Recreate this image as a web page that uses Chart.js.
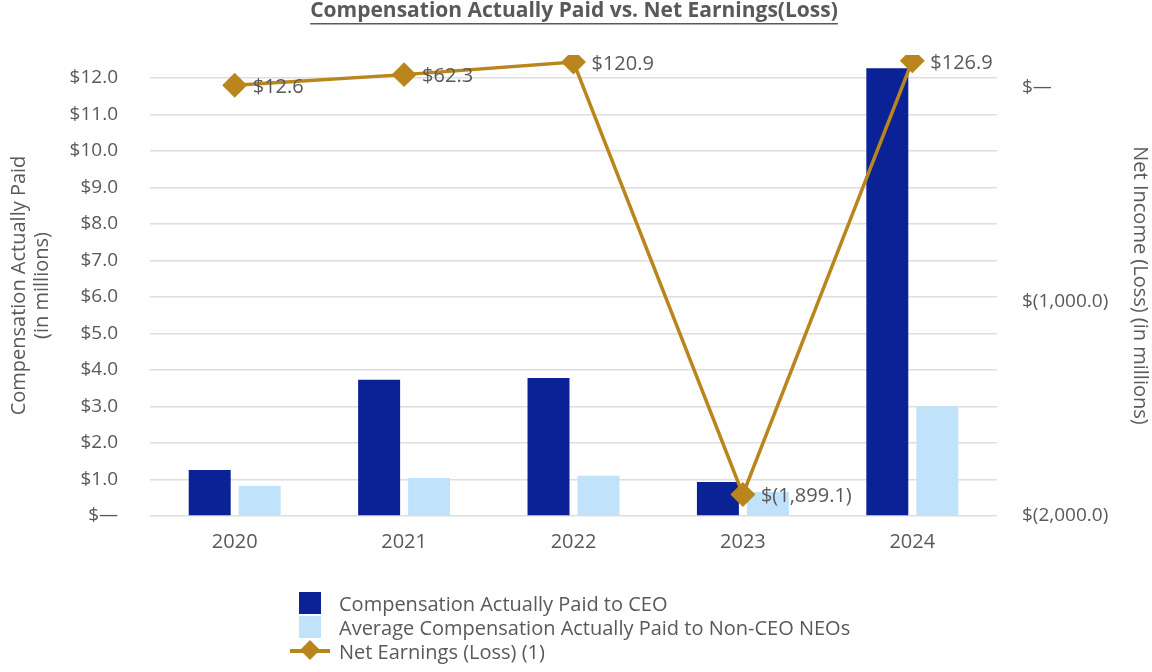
<!DOCTYPE html>
<html>
<head>
<meta charset="utf-8">
<script src="https://cdn.jsdelivr.net/npm/chart.js@4"></script>
<style>
  html, body { margin: 0; padding: 0; background: #fff; }
  #wrap { position: relative; width: 1152px; height: 672px; }
  #legend { position: absolute; left: 299px; top: 591px; font-family: "Open Sans", sans-serif; font-size: 20px; color: #595959; }
  .item { display: flex; align-items: center; height: 24px; }
  .sw { width: 40px; height: 24px; position: relative; }
  .sw span { position: absolute; }
</style>
</head>
<body>
<div id="wrap">
  <canvas id="chart" width="1152" height="672"></canvas>
  <div id="legend"></div>
</div>
<script>
// chart data
const years = ['2020', '2021', '2022', '2023', '2024'];
const ceoPay = [1.26, 3.73, 3.78, 0.93, 12.27];
const neoPay = [0.82, 1.04, 1.10, 0.66, 3.01];
const netEarnings = [12.6, 62.3, 120.9, -1899.1, 126.9];
const netLabels = ['$12.6', '$62.3', '$120.9', '$(1,899.1)', '$126.9'];
const rightTicks = [-2000, -1000, 0];
const rightTickLabels = ['$(2,000.0)', '$(1,000.0)', '$—'];

const seriesNames = ['Compensation Actually Paid to CEO', 'Average Compensation Actually Paid to Non-CEO NEOs', 'Net Earnings (Loss) (1)'];
const ceoColor = '#0b2297';
const neoColor = '#c0e3fb';
const lineColor = '#b9851c';
const textColor = '#595959';
const font = '"Open Sans", sans-serif';

const titlePlugin = {
    id: 'titleUnderline',
    afterDraw(chart) {
        const ctx = chart.ctx;
        const text = 'Compensation Actually Paid vs. Net Earnings(Loss)';
        ctx.save();
        ctx.font = 'bold 21px ' + font;
        ctx.fillStyle = textColor;
        ctx.textAlign = 'center';
        ctx.textBaseline = 'middle';
        ctx.fillText(text, 574, 11);
        const w = ctx.measureText(text).width;
        ctx.fillRect(574 - w / 2, 23, w, 1.5);
        ctx.restore();
    }
};

const labelPlugin = {
    id: 'lineLabels',
    afterDatasetsDraw(chart) {
        const meta = chart.getDatasetMeta(2);
        const ctx = chart.ctx;
        ctx.save();
        ctx.font = '20px ' + font;
        ctx.fillStyle = textColor;
        ctx.textAlign = 'left';
        ctx.textBaseline = 'middle';
        meta.data.forEach((pt, i) => {
            ctx.fillText(netLabels[i], pt.x + 18, pt.y + 2);
        });
        ctx.restore();
    }
};

const ctx = document.getElementById('chart').getContext('2d');
const chart = new Chart(ctx, {
    type: 'bar',
    data: {
        labels: years,
        datasets: [
            {
                label: seriesNames[0],
                data: ceoPay,
                backgroundColor: ceoColor,
                yAxisID: 'y',
                categoryPercentage: 0.59,
                barPercentage: 0.84,
                order: 1
            },
            {
                label: seriesNames[1],
                data: neoPay,
                backgroundColor: neoColor,
                yAxisID: 'y',
                categoryPercentage: 0.59,
                barPercentage: 0.84,
                order: 1
            },
            {
                type: 'line',
                label: seriesNames[2],
                data: netEarnings,
                borderColor: lineColor,
                backgroundColor: lineColor,
                borderWidth: 3.5,
                pointStyle: 'rectRot',
                pointRadius: 10,
                pointHoverRadius: 10,
                yAxisID: 'y1',
                order: 0
            }
        ]
    },
    options: {
        responsive: false,
        animation: false,
        layout: { padding: { top: 55, bottom: 110, left: 0, right: 0 } },
        plugins: {
            legend: { display: false },
            tooltip: { enabled: false }
        },
        scales: {
            x: {
                grid: { display: false },
                border: { display: false },
                ticks: { color: textColor, font: { family: font, size: 20 }, padding: 6 },
                afterFit(scale) { scale.height = 46; }
            },
            y: {
                position: 'left',
                min: 0,
                max: 12.63,
                afterBuildTicks(scale) {
                    scale.ticks = [];
                    for (let v = 0; v <= 12; v++) scale.ticks.push({ value: v });
                },
                afterFit(scale) { scale.width = 150; },
                grid: { color: '#dedede', lineWidth: 1.5, drawTicks: false },
                border: { display: false },
                ticks: {
                    color: textColor,
                    font: { family: font, size: 19 },
                    padding: 32,
                    callback: v => v === 0 ? '$—' : '$' + v.toFixed(1)
                },
                title: {
                    display: true,
                    text: ['Compensation Actually Paid', '(in millions)'],
                    color: textColor,
                    font: { family: font, size: 20, lineHeight: 1.15 },
                    padding: { top: 8, bottom: 0 }
                }
            },
            y1: {
                position: 'right',
                min: -2000,
                max: 154,
                afterBuildTicks(scale) {
                    scale.ticks = rightTicks.map(v => ({ value: v }));
                },
                afterFit(scale) { scale.width = 155; },
                grid: { display: false, drawTicks: false },
                border: { display: false },
                ticks: {
                    color: textColor,
                    font: { family: font, size: 19 },
                    padding: 25,
                    callback: v => rightTickLabels[rightTicks.indexOf(v)]
                },
                title: {
                    display: true,
                    text: 'Net Income (Loss) (in millions)',
                    color: textColor,
                    font: { family: font, size: 20 },
                    padding: { top: 0, bottom: 3 }
                }
            }
        }
    },
    plugins: [titlePlugin, labelPlugin]
});

// legend built from the dataset names and colours
const legend = document.getElementById('legend');
chart.data.datasets.forEach((ds, i) => {
    const item = document.createElement('div');
    item.className = 'item';
    const sw = document.createElement('div');
    sw.className = 'sw';
    if (ds.type === 'line') {
        sw.innerHTML = '<span style="left:-9px;top:10px;width:40px;height:3.5px;background:' + lineColor + '"></span>' +
            '<span style="left:4px;top:4px;width:14px;height:14px;background:' + lineColor + ';transform:rotate(45deg)"></span>';
    } else {
        sw.innerHTML = '<span style="left:0;top:1px;width:22px;height:22px;background:' + ds.backgroundColor + '"></span>';
    }
    const txt = document.createElement('span');
    txt.textContent = ds.label;
    item.appendChild(sw);
    item.appendChild(txt);
    legend.appendChild(item);
});
</script>
</body>
</html>
